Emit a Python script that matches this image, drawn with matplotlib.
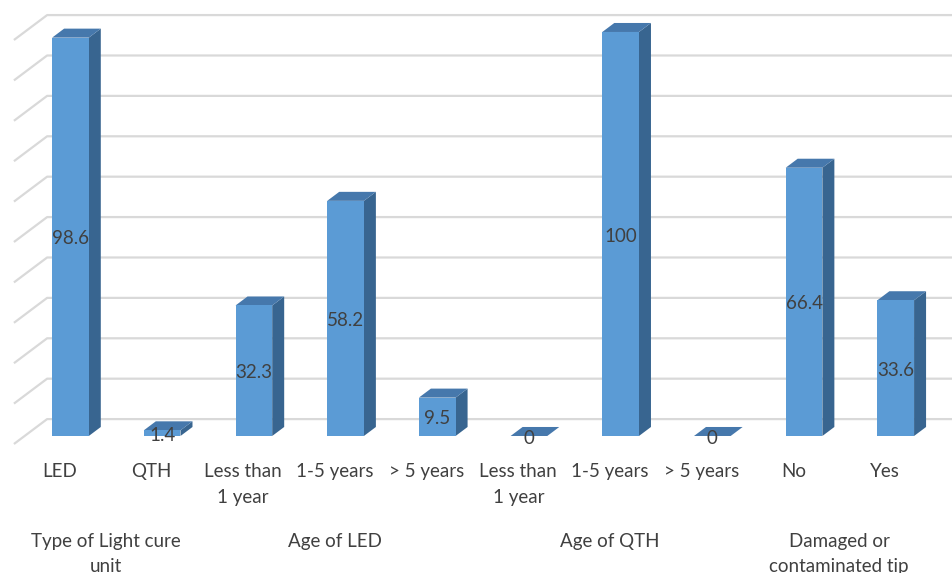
import matplotlib
matplotlib.use("Agg")
import matplotlib.pyplot as plt
from matplotlib.patches import Polygon

plt.rcParams['font.family'] = ['Lato', 'DejaVu Sans']

categories = ['LED', 'QTH', 'Less than\n1 year', '1-5 years', '> 5 years',
              'Less than\n1 year', '1-5 years', '> 5 years', 'No', 'Yes']
values = [98.6, 1.4, 32.3, 58.2, 9.5, 0, 100, 0, 66.4, 33.6]
groups = ['Type of Light cure\nunit', 'Age of LED', 'Age of QTH',
          'Damaged or\ncontaminated tip']
group_spans = [(0, 1), (2, 4), (5, 7), (8, 9)]
gridvals = list(range(0, 101, 10))

FRONT = '#5B9BD5'
TOP = '#4678AC'
SIDE = '#386590'
GRID = '#D9D9D9'
TEXT = '#404040'

# oblique depth step in data units (x: categories, y: percent)
DX, DY = 0.0436, 0.743
D1, D2, DWALL = 2.67, 5.67, 8.3
HW = 0.2


def proj(x, v, d):
    return (x + d * DX, v + d * DY)


fig = plt.figure(figsize=(9.53, 5.73), dpi=100)
ax = fig.add_axes([0, 0, 1, 1])
ax.set_xlim(-0.652, 9.741)
ax.set_ylim(-31.93, 109.9)
ax.axis('off')

n = len(categories)
for g in gridvals:
    pts = [proj(-0.5, g, 0), proj(-0.5, g, DWALL), proj(n + 0.5, g, DWALL)]
    ax.plot([p[0] for p in pts], [p[1] for p in pts], color=GRID, lw=1.6,
            zorder=1, solid_capstyle='butt')

for i, v in enumerate(values):
    l, r = i - HW, i + HW
    front = [proj(l, 0, D1), proj(r, 0, D1), proj(r, v, D1), proj(l, v, D1)]
    side = [proj(r, 0, D1), proj(r, 0, D2), proj(r, v, D2), proj(r, v, D1)]
    top = [proj(l, v, D1), proj(r, v, D1), proj(r, v, D2), proj(l, v, D2)]
    ax.add_patch(Polygon(side, closed=True, fc=SIDE, ec='none', zorder=2))
    ax.add_patch(Polygon(top, closed=True, fc=TOP, ec='none', zorder=2))
    ax.add_patch(Polygon(front, closed=True, fc=FRONT, ec='none', zorder=2))
    lx, ly = proj(i, v / 2, D1)
    ax.text(lx, ly - 0.5, f'{v:g}', ha='center', va='center', fontsize=13.5,
            color=TEXT, zorder=3)

for i, c in enumerate(categories):
    ax.text(i, -4.7, c, ha='center', va='top', fontsize=13.5, color=TEXT,
            linespacing=1.65)

for name, (a, b) in zip(groups, group_spans):
    ax.text((a + b) / 2, -22.0, name, ha='center', va='top', fontsize=13.5,
            color=TEXT, linespacing=1.55)

fig.savefig('out.png', dpi=100, facecolor='white')
